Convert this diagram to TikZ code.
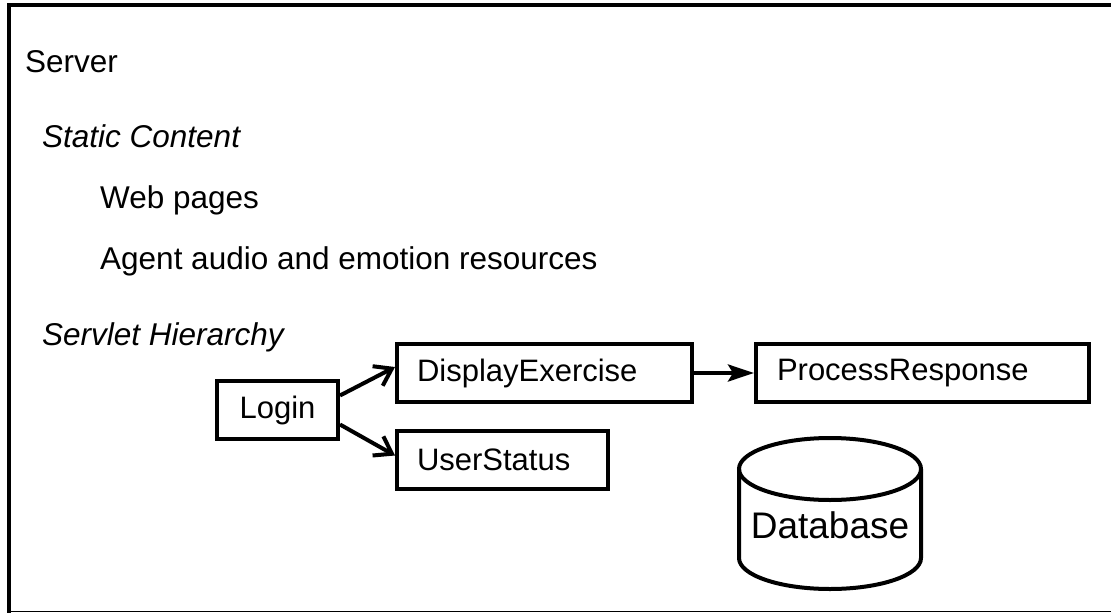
\documentclass[tikz,border=0pt]{standalone}
\usepackage{fontspec}
\setmainfont{Liberation Sans}
\usepackage{tikz}
\usetikzlibrary{positioning,arrows.meta}

\begin{document}
\begin{tikzpicture}[
  x=1pt, y=-1pt,
  node distance=24pt,
  txtnode/.style={anchor=base west, inner sep=0pt, font=\fontsize{31.5}{37}\selectfont},
  boxnode/.style={rectangle, draw=black, fill=white, line width=4pt, anchor=north west,
                  inner xsep=0pt, minimum height=58pt, font=\fontsize{31}{37}\selectfont},
  every edge/.style={  % directed connectors
            draw,
            line width=4pt,
            -{Straight Barb[length=16pt,width=22pt,line width=4pt]}}
]
  \useasboundingbox (0,0) rectangle (1111,613);

  % frame (cut off on the right)
  \draw[line width=4pt] (9,613) -- (9,5) -- (1111,5);
  \draw[line width=1.5pt] (9,611.5) -- (1111,611.5);

  \node[txtnode] (Srv) at (25,72)  {Server};
  \node[txtnode] (SC)  at (42,147) {\itshape Static Content};
  \node[txtnode] (WP)  at (100,208) {Web pages};
  \node[txtnode] (AR)  at (100,269) {Agent audio and emotion resources};
  \node[txtnode] (SH)  at (42,345) {\itshape Servlet Hierarchy};

  \node[boxnode, minimum width=121pt, align=center] (L) at (215,379) {Login};
  \node[boxnode, minimum width=295pt, text width=255pt, inner xsep=20pt] (D) at (395,342) {DisplayExercise};
  \node[boxnode, minimum width=211pt, text width=171pt, inner xsep=20pt] (U) [below=25pt of D.south west, anchor=north west] {UserStatus};
  \node[boxnode, minimum width=333pt, text width=291pt, inner xsep=21pt] (P) [right=60pt of D.north east, anchor=north west] {ProcessResponse};

  % database drum
  \node[inner sep=0pt, font=\fontsize{37}{44}\selectfont] (DB) at (830,525) {Database};
  \draw[line width=4pt] (739,469) -- (739,558) arc[start angle=180, end angle=360, x radius=91pt, y radius=31pt] -- (921,469);
  \draw[line width=4pt] (830,469) ellipse[x radius=91pt, y radius=31pt];

  \draw ([yshift=14.5pt]L.east) edge ([yshift=6pt]D.west);
  \draw ([yshift=-14.5pt]L.east) edge ([yshift=4.5pt]U.west);
  \draw[line width=4pt, -{Stealth[length=26pt,width=17pt,inset=5pt]}] (D.east) -- (P.west);

\end{tikzpicture}
\end{document}
